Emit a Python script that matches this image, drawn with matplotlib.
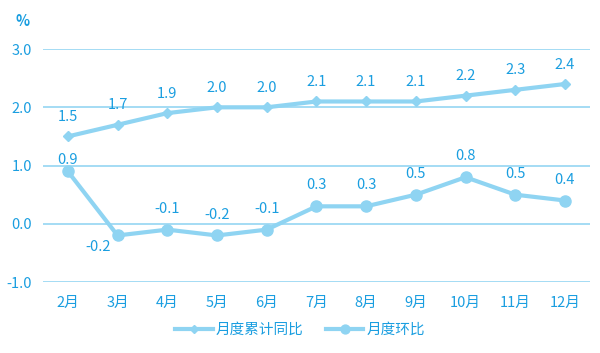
import numpy as np
import matplotlib
matplotlib.use("Agg")
import matplotlib.pyplot as plt

plt.rcParams['font.family'] = ['Noto Sans CJK SC', 'DejaVu Sans']

months = ["2月", "3月", "4月", "5月", "6月", "7月", "8月", "9月", "10月", "11月", "12月"]
cum_yoy = [1.5, 1.7, 1.9, 2.0, 2.0, 2.1, 2.1, 2.1, 2.2, 2.3, 2.4]
mom = [0.9, -0.2, -0.1, -0.2, -0.1, 0.3, 0.3, 0.5, 0.8, 0.5, 0.4]
yticks = [-1.0, 0.0, 1.0, 2.0, 3.0]

LINE = "#8fd4f2"
TEXT = "#1a9ee0"
GRID = "#9dd9f3"
FS = 10.5

fig = plt.figure(figsize=(6.0, 3.53), dpi=100)
ax = fig.add_axes([0.0717, 0.201, 0.9113, 0.66])
x = np.arange(len(months))

for y in yticks:
    ax.axhline(y, color=GRID, lw=1.3, zorder=1)

ax.plot(x, cum_yoy, color=LINE, lw=3, marker="D", ms=5, zorder=3, label="月度累计同比")
ax.plot(x, mom, color=LINE, lw=3, marker="o", ms=8, zorder=3, label="月度环比")

for xi, v in zip(x, cum_yoy):
    ax.annotate(f"{v:.1f}", (xi, v), xytext=(0, 9), textcoords="offset points",
                ha="center", va="bottom", color=TEXT, fontsize=FS)
for i, (xi, v) in enumerate(zip(x, mom)):
    if i == 1:
        ax.annotate(f"{v:.1f}", (xi, v), xytext=(-14, -3), textcoords="offset points",
                    ha="center", va="top", color=TEXT, fontsize=FS)
    else:
        dy = 3 if i == 0 else 10
        ax.annotate(f"{v:.1f}", (xi, v), xytext=(0, dy), textcoords="offset points",
                    ha="center", va="bottom", color=TEXT, fontsize=FS)

ax.set_xlim(-0.5, len(months) - 0.5)
ax.set_ylim(-1.0, 3.0)
ax.set_yticks(yticks)
ax.set_yticklabels([f"{v:.1f}" for v in yticks])
ax.set_xticks(x)
ax.set_xticklabels(months)
ax.tick_params(length=0, colors=TEXT, labelsize=FS)
ax.tick_params(axis="x", pad=10)
ax.tick_params(axis="y", pad=8)
for s in ax.spines.values():
    s.set_visible(False)

fig.text(0.037, 0.94, "%", color=TEXT, fontsize=FS, fontweight="bold", ha="center", va="center")

leg = fig.legend(loc="center", bbox_to_anchor=(0.5, 0.065), ncol=2, frameon=False,
                 fontsize=FS, handlelength=2.6, columnspacing=1.5, handletextpad=0.2,
                 markerscale=0.8)
for t in leg.get_texts():
    t.set_color(TEXT)

fig.savefig("out.png", dpi=100)
